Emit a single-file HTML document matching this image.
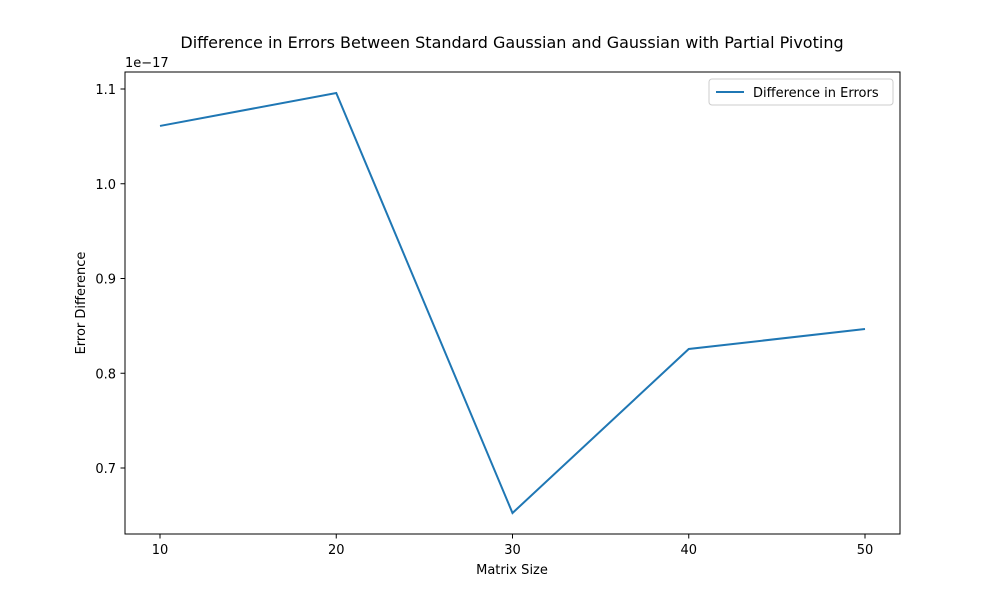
<!DOCTYPE html>
<html><head><meta charset="utf-8"><style>
body{margin:0;background:#fff;}
svg{font-family:"DejaVu Sans","Liberation Sans",sans-serif;}
</style></head><body>
<svg id="chart" width="1000" height="600">
<rect width="1000" height="600" fill="#fff"/>
<text x="512" y="48" text-anchor="middle" font-size="16">Difference in Errors Between Standard Gaussian and Gaussian with Partial Pivoting</text>
<g id="axes"></g>
<rect x="125" y="72" width="775" height="462" fill="none" stroke="#000" stroke-width="1"/>
<text x="512" y="574" text-anchor="middle" font-size="13">Matrix Size</text>
<text transform="translate(85,303) rotate(-90)" text-anchor="middle" font-size="13">Error Difference</text>
<text x="125" y="67" font-size="13">1e−17</text>
<g>
<rect x="709" y="79" width="184" height="26" fill="#fff" stroke="#ccc" rx="3"/>
<line x1="716" y1="92" x2="744" y2="92" stroke="#1f77b4" stroke-width="2"/>
<text x="753" y="97" font-size="13">Difference in Errors</text>
</g>
</svg>
<script>
const sizes=[10,20,30,40,50];
const diffs=[1.061,1.0958,0.6525,0.8256,0.8467];
const xTicks=[10,20,30,40,50];
const yTicks=[0.7,0.8,0.9,1.0,1.1];
const yLabels=["0.7","0.8","0.9","1.0","1.1"];
const ns="http://www.w3.org/2000/svg";
const g=document.getElementById('axes');
const xs=v=>160+(v-10)*17.625;
const ys=v=>89+(1.1-v)*947.5;
function mk(t,a){const e=document.createElementNS(ns,t);for(const k in a)e.setAttribute(k,a[k]);g.appendChild(e);return e;}
xTicks.forEach(t=>{
 const l=mk('line',{x1:xs(t),x2:xs(t),y1:534,y2:538.5,stroke:'#000'});
 
 
 const tx=mk('text',{x:xs(t),y:554,'text-anchor':'middle','font-size':13});tx.textContent=t;
 
 
});
yTicks.forEach((t,i)=>{
 const l=mk('line',{x1:120.5,x2:125,y1:ys(t),y2:ys(t),stroke:'#000'});
 
 
 const tx=mk('text',{x:116,y:ys(t)+5,'text-anchor':'end','font-size':13});tx.textContent=yLabels[i];
 
 
});
const p=mk('polyline',{points:sizes.map((s,i)=>xs(s)+','+ys(diffs[i])).join(' '),fill:'none',stroke:'#1f77b4','stroke-width':2});


</script>
</body></html>
